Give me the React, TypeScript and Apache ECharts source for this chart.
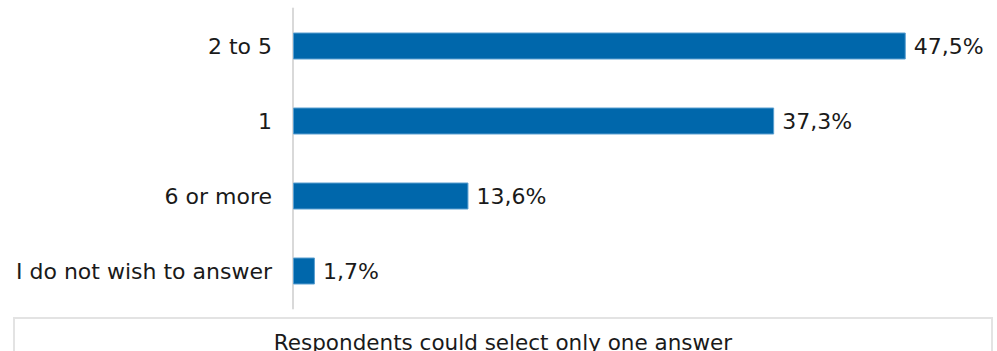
import React, { useEffect, useRef } from "react";
import * as echarts from "echarts";

const categories = ["2 to 5", "1", "6 or more", "I do not wish to answer"];
const values = [47.5, 37.3, 13.6, 1.7];
const note = "Respondents could select only one answer";

const FONT = "DejaVu Sans";

export default function App() {
  const ref = useRef<HTMLDivElement>(null);
  useEffect(() => {
    if (!ref.current) return;
    const chart = echarts.init(ref.current, undefined, { renderer: "svg" });
    chart.setOption({
      animation: false,
      grid: { left: 293, top: 8.5, height: 300, width: 645, containLabel: false },
      xAxis: {
        type: "value",
        min: 0,
        max: 50,
        show: false,
      },
      yAxis: {
        type: "category",
        data: categories,
        inverse: true,
        axisLine: { show: true, lineStyle: { color: "#d9d9d9", width: 2 } },
        axisTick: { show: false },
        axisLabel: {
          margin: 21,
          color: "#1a1a1a",
          fontFamily: FONT,
          fontSize: 22,
        },
      },
      series: [
        {
          type: "bar",
          data: values,
          barWidth: 27,
          itemStyle: { color: "#0067ab", borderColor: "#5a9fd0", borderWidth: 1 },
          label: {
            show: true,
            position: "right",
            distance: 8,
            color: "#1a1a1a",
            fontFamily: FONT,
            fontSize: 22,
            formatter: (p: any) => p.value.toFixed(1).replace(".", ",") + "%",
          },
        },
      ],
      graphic: [
        {
          type: "rect",
          shape: { x: 14, y: 318, width: 978, height: 50 },
          style: { fill: "#ffffff", stroke: "#e3e3e3", lineWidth: 2 },
        },
        {
          type: "text",
          x: 503,
          y: 342,
          style: {
            text: note,
            fill: "#1a1a1a",
            font: `21.5px "${FONT}"`,
            align: "center",
            verticalAlign: "middle",
          },
        },
      ],
    });
    return () => chart.dispose();
  }, []);
  return (
    <div
      ref={ref}
      style={{ position: "absolute", left: 0, top: 0, width: 997, height: 351 }}
    />
  );
}
